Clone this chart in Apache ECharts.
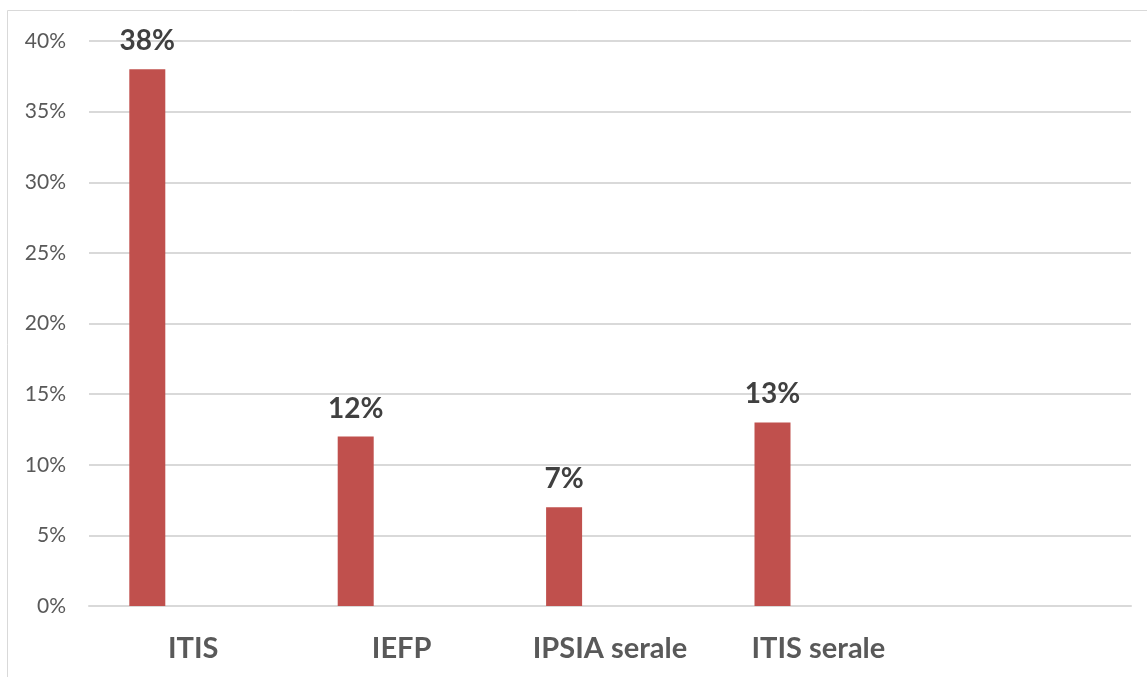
<!DOCTYPE html>
<html lang="it">
<head>
    <meta charset="UTF-8">
    <title>Percentuali</title>
    <script src="https://cdn.jsdelivr.net/npm/echarts@6/dist/echarts.min.js"></script>
    <style>
        html, body { margin: 0; padding: 0; background: #fff; }
    </style>
</head>
<body>
    <div id="main" style="width:1147px;height:677px;"></div>
</body>
<script>
    // dati
    var categorie = ['ITIS', 'IEFP', 'IPSIA serale', 'ITIS serale', ''];
    var valori = [38, 12, 7, 13, '-'];
    var vuota = ['-', '-', '-', '-', '-'];   // seconda serie vuota (come nel grafico originale)
    var yMin = 0, yMax = 40, yPasso = 5;

    var myChart = echarts.init(document.getElementById('main'));

    var option = {
        animation: false,
        textStyle: { fontFamily: 'Lato' },
        graphic: [{
            type: 'rect',
            shape: { x: 7.5, y: 10.5, width: 1300, height: 1000 },
            style: { fill: 'none', stroke: '#d9d9d9', lineWidth: 1 },
            silent: true
        }],
        grid: { left: 89, right: 16, top: 41, bottom: 71 },
        xAxis: {
            type: 'category',
            data: categorie,
            axisLine: { lineStyle: { color: '#d9d9d9', width: 2 } },
            axisTick: { show: false },
            axisLabel: {
                interval: 0,
                margin: 28,
                color: '#595959',
                fontSize: 29,
                fontWeight: 'bold',
                fontFamily: 'Lato'
            }
        },
        yAxis: {
            type: 'value',
            min: yMin,
            max: yMax,
            interval: yPasso,
            axisLine: { show: false },
            axisTick: { show: false },
            splitLine: { lineStyle: { color: '#d9d9d9', width: 2 } },
            axisLabel: {
                formatter: '{value}%',
                margin: 23,
                color: '#595959',
                fontSize: 21,
                fontFamily: 'Lato'
            }
        },
        series: [
            {
                name: 'Serie 1',
                type: 'bar',
                data: valori,
                barWidth: 36,
                barGap: '155%',
                itemStyle: { color: '#c0504d' },
                label: {
                    show: true,
                    position: 'top',
                    distance: 14,
                    formatter: '{c}%',
                    color: '#404040',
                    fontSize: 28,
                    fontWeight: 'bold',
                    fontFamily: 'Lato'
                }
            },
            {
                name: 'Serie 2',
                type: 'bar',
                data: vuota,
                barWidth: 36,
                itemStyle: { color: '#4f81bd' }
            }
        ]
    };

    myChart.setOption(option);
</script>
</html>
